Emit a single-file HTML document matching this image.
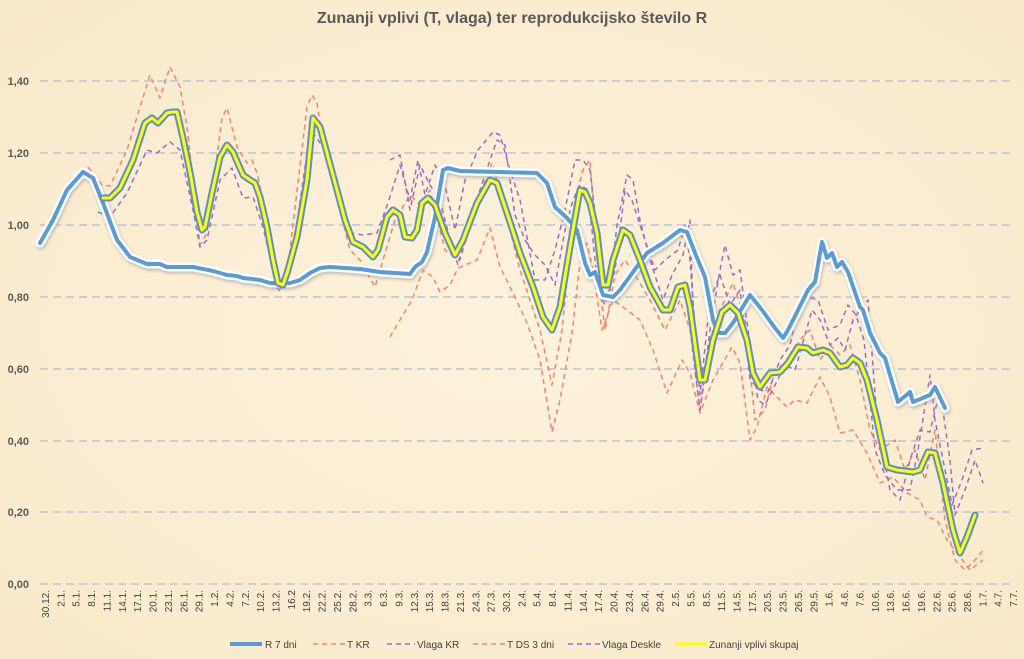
<!DOCTYPE html>
<html><head><meta charset="utf-8"><style>
html,body{margin:0;padding:0;background:#fcefd6;}
svg{display:block;font-family:"Liberation Sans",sans-serif;}
</style></head><body>
<svg width="1024" height="659" viewBox="0 0 1024 659" xmlns="http://www.w3.org/2000/svg">
<defs>
<radialGradient id="bg" cx="50%" cy="50%" r="75%"><stop offset="0" stop-color="#fdf2dc"/><stop offset="1" stop-color="#f9e9c9"/></radialGradient>
<filter id="sh" x="-5%" y="-5%" width="110%" height="110%"><feGaussianBlur stdDeviation="1.5"/></filter>
</defs>
<rect width="1024" height="659" fill="url(#bg)"/>
<text x="512" y="23" text-anchor="middle" font-size="16" font-weight="bold" fill="#595959">Zunanji vplivi (T, vlaga) ter reprodukcijsko število R</text>
<g stroke="#c8ced8" stroke-width="2" stroke-dasharray="8,5">
<line x1="40" y1="81" x2="1012" y2="81"/><line x1="40" y1="153" x2="1012" y2="153"/><line x1="40" y1="225" x2="1012" y2="225"/><line x1="40" y1="297" x2="1012" y2="297"/><line x1="40" y1="369" x2="1012" y2="369"/><line x1="40" y1="441" x2="1012" y2="441"/><line x1="40" y1="512" x2="1012" y2="512"/><line x1="40" y1="584" x2="1012" y2="584"/>
</g>
<g font-size="11" font-weight="bold" fill="#595959" text-anchor="end">
<text x="29" y="85">1,40</text><text x="29" y="157">1,20</text><text x="29" y="229">1,00</text><text x="29" y="301">0,80</text><text x="29" y="373">0,60</text><text x="29" y="445">0,40</text><text x="29" y="516">0,20</text><text x="29" y="588">0,00</text>
</g>
<g font-size="10" fill="#404040" text-anchor="end" id="xl"></g>

<g fill="none" stroke-linejoin="round" stroke-linecap="butt">
<!-- T DS 3 dni -->
<polyline stroke="#f4806d" stroke-width="1.5" stroke-dasharray="5,4" points="390,337 400,320 412,300 423,270 433,277 440,292 450,285 458,268 477,260 490,228 500,267 513,293 527,323 540,360 552,432 560,400 572,333 580,263 587,243 593,270 602,330 613,300 627,310 640,320 653,350 667,393 673,380 682,360 690,373 700,413 713,380 732,347 740,363 750,440 757,427 767,387 780,400 787,407 795,400 807,403 820,377 830,397 840,433 853,430 867,453 880,483 893,477 907,493 920,500 927,517 937,520 947,540 957,553 970,570 983,560"/>
<!-- T KR -->
<polyline stroke="#f4806d" stroke-width="1.5" stroke-dasharray="5,4" points="88,167 102,185 110,186 127,150 140,107 150,75 160,98 170,67 180,87 187,127 200,245 207,233 222,118 227,108 237,147 247,163 252,160 257,173 267,220 277,290 288,267 307,107 312,95 317,103 323,143 350,250 360,260 375,287 383,260 395,220 410,195 420,205 430,190 445,250 460,260 478,200 492,163 505,210 520,270 540,330 552,385 562,330 575,200 583,170 590,160 598,270 605,330 615,275 625,260 635,275 650,300 665,330 680,300 690,330 700,410 710,345 720,310 733,283 745,320 755,420 765,410 775,370 790,360 800,340 810,330 820,360 830,345 840,355 850,345 860,380 870,430 880,450 895,440 905,470 915,450 925,480 935,430 945,520 955,560 965,570 975,560 985,548"/>
<!-- Vlaga KR -->
<polyline stroke="#9a6cc4" stroke-width="1.5" stroke-dasharray="5,4" points="98,212 110,217 127,193 147,150 157,153 170,142 180,150 193,210 200,247 207,240 220,180 232,168 243,198 253,197 263,227 278,292 290,273 307,153 313,133 323,147 350,233 363,235 377,233 388,203 400,165 410,200 418,160 425,195 435,165 445,185 455,230 465,180 478,150 493,132 500,135 510,170 520,200 535,280 545,280 555,250 565,210 575,160 583,160 590,170 597,230 603,300 610,290 617,225 627,175 633,180 640,220 650,260 663,300 672,275 683,255 690,220 695,370 700,410 710,330 720,270 725,245 733,275 740,270 748,330 758,400 765,405 775,385 785,365 795,370 805,335 812,310 820,320 830,345 838,338 845,350 853,320 860,310 868,300 877,420 890,490 900,500 910,460 920,430 930,432 940,390 950,460 955,515 965,490 975,460 983,483"/>
<!-- Vlaga Deskle -->
<polyline stroke="#9a6cc4" stroke-width="1.5" stroke-dasharray="5,4" points="390,160 400,155 410,210 420,165 430,185 440,200 450,240 458,265 470,220 485,175 497,140 505,145 515,215 525,240 535,255 545,265 555,285 565,230 573,200 580,185 588,190 598,290 605,305 615,270 625,190 632,200 640,225 655,270 665,260 678,250 685,225 690,260 700,395 710,300 720,275 730,305 740,290 750,380 760,390 768,392 780,360 790,345 798,310 808,297 818,300 828,330 840,325 848,305 856,315 864,340 875,450 885,475 897,490 910,490 918,450 930,375 935,420 945,470 952,505 962,480 972,450 983,448"/>
</g>
<g fill="none" stroke-linejoin="round" stroke-linecap="round">
<!-- R 7 dni -->
<polyline id="r7" stroke="#9a9a9a" stroke-width="9" opacity="0.6" filter="url(#sh)" transform="translate(1,2)" points="40,243 53,220 67,190 83,172 93,178 103,203 117,240 130,257 147,264 160,264 167,267 193,267 203,269 213,271 227,275 237,276 243,278 260,280 270,283 290,283 300,280 310,273 320,268 330,267 360,269 380,272 410,274 415,267 422,262 427,252 435,217 443,170 448,168 460,171 537,173 547,183 555,207 567,218 577,230 585,263 590,275 595,272 603,295 613,297 620,290 633,272 647,253 663,243 680,230 687,232 695,253 705,277 713,320 718,333 725,333 733,323 750,295 762,310 775,328 783,338 788,330 798,310 808,290 815,282 822,242 827,258 832,253 837,267 842,262 848,272 860,307 863,310 870,333 880,353 885,358 898,402 910,392 913,402 930,395 935,387 945,408"/>
<polyline stroke="#ffffff" stroke-width="9" points="40,243 53,220 67,190 83,172 93,178 103,203 117,240 130,257 147,264 160,264 167,267 193,267 203,269 213,271 227,275 237,276 243,278 260,280 270,283 290,283 300,280 310,273 320,268 330,267 360,269 380,272 410,274 415,267 422,262 427,252 435,217 443,170 448,168 460,171 537,173 547,183 555,207 567,218 577,230 585,263 590,275 595,272 603,295 613,297 620,290 633,272 647,253 663,243 680,230 687,232 695,253 705,277 713,320 718,333 725,333 733,323 750,295 762,310 775,328 783,338 788,330 798,310 808,290 815,282 822,242 827,258 832,253 837,267 842,262 848,272 860,307 863,310 870,333 880,353 885,358 898,402 910,392 913,402 930,395 935,387 945,408"/>
<polyline stroke="#5b9bd5" stroke-width="4" points="40,243 53,220 67,190 83,172 93,178 103,203 117,240 130,257 147,264 160,264 167,267 193,267 203,269 213,271 227,275 237,276 243,278 260,280 270,283 290,283 300,280 310,273 320,268 330,267 360,269 380,272 410,274 415,267 422,262 427,252 435,217 443,170 448,168 460,171 537,173 547,183 555,207 567,218 577,230 585,263 590,275 595,272 603,295 613,297 620,290 633,272 647,253 663,243 680,230 687,232 695,253 705,277 713,320 718,333 725,333 733,323 750,295 762,310 775,328 783,338 788,330 798,310 808,290 815,282 822,242 827,258 832,253 837,267 842,262 848,272 860,307 863,310 870,333 880,353 885,358 898,402 910,392 913,402 930,395 935,387 945,408"/>
<!-- Zunanji -->
<polyline stroke="#5b8fc9" stroke-width="7" points="103,198 110,198 120,188 133,160 145,123 152,118 158,123 167,113 172,112 177,112 183,138 190,172 197,212 202,230 205,227 212,193 220,157 227,145 233,152 243,175 250,180 255,183 260,197 267,227 273,260 278,283 283,285 288,270 297,237 307,180 313,118 320,127 327,153 337,190 345,220 353,242 363,247 373,257 378,250 387,217 393,210 400,215 405,237 412,238 417,230 422,203 428,198 435,205 445,233 455,255 463,240 477,203 490,180 497,183 507,213 520,253 533,287 543,317 552,330 560,307 570,247 580,190 585,192 590,203 597,233 603,285 608,285 613,260 623,230 630,235 640,260 650,287 663,310 670,310 678,287 685,285 690,307 700,380 705,380 713,340 722,312 730,305 738,313 747,340 753,373 760,387 770,373 780,372 788,363 798,347 807,348 813,353 823,350 830,353 840,367 847,365 853,358 860,363 867,380 877,420 887,467 897,470 913,472 920,470 928,452 935,453 943,483 953,530 960,553 967,537 975,515"/>
<polyline stroke="#ffff00" stroke-width="3" points="103,198 110,198 120,188 133,160 145,123 152,118 158,123 167,113 172,112 177,112 183,138 190,172 197,212 202,230 205,227 212,193 220,157 227,145 233,152 243,175 250,180 255,183 260,197 267,227 273,260 278,283 283,285 288,270 297,237 307,180 313,118 320,127 327,153 337,190 345,220 353,242 363,247 373,257 378,250 387,217 393,210 400,215 405,237 412,238 417,230 422,203 428,198 435,205 445,233 455,255 463,240 477,203 490,180 497,183 507,213 520,253 533,287 543,317 552,330 560,307 570,247 580,190 585,192 590,203 597,233 603,285 608,285 613,260 623,230 630,235 640,260 650,287 663,310 670,310 678,287 685,285 690,307 700,380 705,380 713,340 722,312 730,305 738,313 747,340 753,373 760,387 770,373 780,372 788,363 798,347 807,348 813,353 823,350 830,353 840,367 847,365 853,358 860,363 867,380 877,420 887,467 897,470 913,472 920,470 928,452 935,453 943,483 953,530 960,553 967,537 975,515"/>
</g>

<g font-size="10" fill="#404040">
<line x1="230" y1="644" x2="262" y2="644" stroke="#5b9bd5" stroke-width="4"/><text x="265" y="648">R 7 dni</text>
<line x1="313" y1="644" x2="345" y2="644" stroke="#f4806d" stroke-width="1.5" stroke-dasharray="5,4"/><text x="347" y="648">T KR</text>
<line x1="387" y1="644" x2="415" y2="644" stroke="#9a6cc4" stroke-width="1.5" stroke-dasharray="5,4"/><text x="417" y="648">Vlaga KR</text>
<line x1="473" y1="644" x2="505" y2="644" stroke="#f4806d" stroke-width="1.5" stroke-dasharray="5,4"/><text x="507" y="648">T DS 3 dni</text>
<line x1="568" y1="644" x2="600" y2="644" stroke="#9a6cc4" stroke-width="1.5" stroke-dasharray="5,4"/><text x="602" y="648">Vlaga Deskle</text>
<line x1="675" y1="644" x2="707" y2="644" stroke="#ffff00" stroke-width="3"/><text x="709" y="648">Zunanji vplivi skupaj</text>
</g>

<g font-size="10" fill="#404040" text-anchor="end">
<text transform="translate(49,590) rotate(-90)">30.12.</text>
<text transform="translate(64.4,590) rotate(-90)">2.1.</text>
<text transform="translate(79.7,590) rotate(-90)">5.1.</text>
<text transform="translate(95.1,590) rotate(-90)">8.1.</text>
<text transform="translate(110.5,590) rotate(-90)">11.1.</text>
<text transform="translate(125.8,590) rotate(-90)">14.1.</text>
<text transform="translate(141.2,590) rotate(-90)">17.1.</text>
<text transform="translate(156.6,590) rotate(-90)">20.1.</text>
<text transform="translate(171.9,590) rotate(-90)">23.1.</text>
<text transform="translate(187.3,590) rotate(-90)">26.1.</text>
<text transform="translate(202.7,590) rotate(-90)">29.1.</text>
<text transform="translate(218,590) rotate(-90)">1.2.</text>
<text transform="translate(233.4,590) rotate(-90)">4.2.</text>
<text transform="translate(248.8,590) rotate(-90)">7.2.</text>
<text transform="translate(264.1,590) rotate(-90)">10.2.</text>
<text transform="translate(279.5,590) rotate(-90)">13.2.</text>
<text transform="translate(294.9,590) rotate(-90)">16.2</text>
<text transform="translate(310.2,590) rotate(-90)">19.2.</text>
<text transform="translate(325.6,590) rotate(-90)">22.2.</text>
<text transform="translate(341,590) rotate(-90)">25.2.</text>
<text transform="translate(356.3,590) rotate(-90)">28.2.</text>
<text transform="translate(371.7,590) rotate(-90)">3.3.</text>
<text transform="translate(387.1,590) rotate(-90)">6.3.</text>
<text transform="translate(402.4,590) rotate(-90)">9.3.</text>
<text transform="translate(417.8,590) rotate(-90)">12.3.</text>
<text transform="translate(433.2,590) rotate(-90)">15.3.</text>
<text transform="translate(448.5,590) rotate(-90)">18.3.</text>
<text transform="translate(463.9,590) rotate(-90)">21.3.</text>
<text transform="translate(479.3,590) rotate(-90)">24.3.</text>
<text transform="translate(494.6,590) rotate(-90)">27.3.</text>
<text transform="translate(510,590) rotate(-90)">30.3.</text>
<text transform="translate(525.4,590) rotate(-90)">2.4.</text>
<text transform="translate(540.7,590) rotate(-90)">5.4.</text>
<text transform="translate(556.1,590) rotate(-90)">8.4.</text>
<text transform="translate(571.5,590) rotate(-90)">11.4.</text>
<text transform="translate(586.8,590) rotate(-90)">14.4.</text>
<text transform="translate(602.2,590) rotate(-90)">17.4.</text>
<text transform="translate(617.6,590) rotate(-90)">20.4.</text>
<text transform="translate(632.9,590) rotate(-90)">23.4.</text>
<text transform="translate(648.3,590) rotate(-90)">26.4.</text>
<text transform="translate(663.7,590) rotate(-90)">29.4.</text>
<text transform="translate(679,590) rotate(-90)">2.5.</text>
<text transform="translate(694.4,590) rotate(-90)">5.5.</text>
<text transform="translate(709.8,590) rotate(-90)">8.5.</text>
<text transform="translate(725.1,590) rotate(-90)">11.5.</text>
<text transform="translate(740.5,590) rotate(-90)">14.5.</text>
<text transform="translate(755.9,590) rotate(-90)">17.5.</text>
<text transform="translate(771.2,590) rotate(-90)">20.5.</text>
<text transform="translate(786.6,590) rotate(-90)">23.5.</text>
<text transform="translate(802,590) rotate(-90)">26.5.</text>
<text transform="translate(817.3,590) rotate(-90)">29.5.</text>
<text transform="translate(832.7,590) rotate(-90)">1.6.</text>
<text transform="translate(848.1,590) rotate(-90)">4.6.</text>
<text transform="translate(863.4,590) rotate(-90)">7.6.</text>
<text transform="translate(878.8,590) rotate(-90)">10.6.</text>
<text transform="translate(894.2,590) rotate(-90)">13.6.</text>
<text transform="translate(909.5,590) rotate(-90)">16.6.</text>
<text transform="translate(924.9,590) rotate(-90)">19.6.</text>
<text transform="translate(940.3,590) rotate(-90)">22.6.</text>
<text transform="translate(955.6,590) rotate(-90)">25.6.</text>
<text transform="translate(971,590) rotate(-90)">28.6.</text>
<text transform="translate(986.4,590) rotate(-90)">1.7.</text>
<text transform="translate(1001.7,590) rotate(-90)">4.7.</text>
<text transform="translate(1017,590) rotate(-90)">7.7.</text>
</g>
</svg>
</body></html>
